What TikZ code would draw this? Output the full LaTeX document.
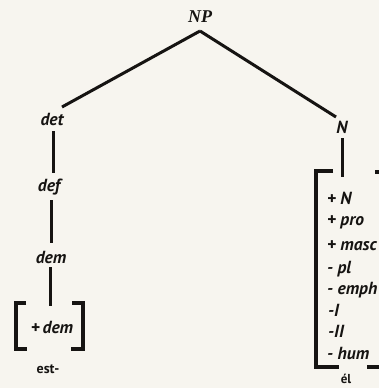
\documentclass[tikz,border=0pt]{standalone}
\usepackage{fontspec}
\newfontfamily\labfont{PT Sans}
\newfontfamily\npfont{Liberation Serif}
\definecolor{paper}{RGB}{247,245,239}
\definecolor{ink}{RGB}{22,20,18}
\begin{document}
\begin{tikzpicture}[x=1pt,y=-1pt,
  lab/.style={inner sep=0pt,text=ink,font=\labfont\bfseries\itshape\fontsize{17.5}{20}\selectfont},
  word/.style={inner sep=0pt,text=ink,font=\labfont\bfseries\fontsize{14}{16}\selectfont},
  feat/.style={lab,anchor=west},
  branch/.style={draw=ink,line width=3pt},
  brack/.style={draw=ink,line width=3.2pt,line cap=butt}]
  \fill[paper] (0,0) rectangle (379,388);
  \useasboundingbox (0,0) rectangle (379,388);
  \begin{scope}
  \clip (0,0) rectangle (379,388);

  % root and its two daughters
  \node[lab,font=\npfont\bfseries\itshape\fontsize{18}{20}\selectfont] (NP) at (200,17) {NP};
  \node[lab] (det) at (52,119) {det};
  \node[lab] (N) at (342,127) {N};
  \coordinate (apex) at (200,31);
  \coordinate (detTop) at (62,107);
  \coordinate (nTop) at (336,117);
  \draw[branch] (apex) -- (detTop);
  \draw[branch] (apex) -- (nTop);

  % determiner chain
  \node[lab] (def) at (49,187) {def};
  \node[lab] (dem) at (51,257) {dem};
  \node[lab] (pdem) at (52,327) {+\,dem};
  \node[word] (est) at (48,369) {est-};
  \draw[branch] (53,131) -- (53,173);
  \draw[branch] (51,200) -- (51,243);
  \draw[branch] (50,267) -- (50,306);
  \draw[brack] (26,303) -- (16,303) -- (16,349) -- (27,349);
  \draw[brack] (72,303) -- (83,303) -- (83,349) -- (71,349);

  % noun feature matrix
  \draw[branch] (342,138) -- (342,177);
  \node[feat] (f1) at (327,198) {+ N};
  \node[feat] (f2) at (327,222) {+ pro};
  \node[feat] (f3) at (327,246) {+ masc};
  \node[feat] (f4) at (327,269) {- pl};
  \node[feat] (f5) at (327,290) {- emph};
  \node[feat] (f6) at (328,310) {-I};
  \node[feat] (f7) at (328,331) {-II};
  \node[feat] (f8) at (327,353) {- hum};
  \node[word,font=\labfont\bfseries\fontsize{13}{15}\selectfont] (el) at (346,379) {él};
  \draw[brack] (333,171) -- (316,171) -- (316,367) -- (339,367);
  \draw[brack] (375,172) -- (386,172) -- (386,367) -- (367,367);
  \end{scope}
\end{tikzpicture}
\end{document}
